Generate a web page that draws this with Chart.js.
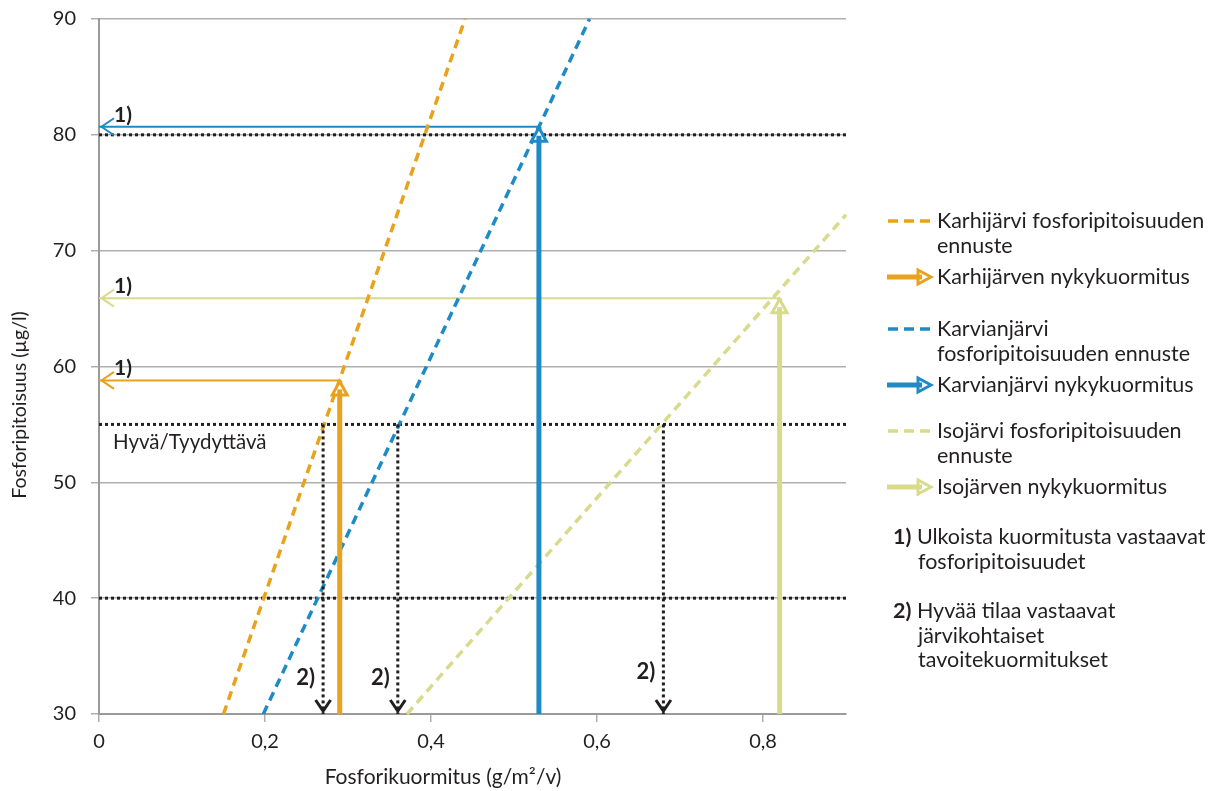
<!DOCTYPE html>
<html>
<head>
<meta charset="utf-8">
<script src="https://cdn.jsdelivr.net/npm/chart.js@4.4.1/dist/chart.umd.min.js"></script>
<style>
  html, body { margin: 0; padding: 0; background: #fff; }
  #wrap { position: relative; width: 1211px; height: 791px; font-family: Lato, "Open Sans", sans-serif; color: #231F20; }
  #c { position: absolute; left: 0; top: 0; }
  .lg { position: absolute; font-size: 21.5px; line-height: 24px; white-space: nowrap; }
  .lg b { font-weight: 700; }
  .icon { position: absolute; }
</style>
</head>
<body>
<div id="wrap">
  <canvas id="c" width="1211" height="791"></canvas>
  <div id="legend"></div>
</div>
<script>
// Lakes and their phosphorus models
const lakes = ['Karhijärvi', 'Karvianjärvi', 'Isojärvi'];

// Forecast lines: concentration (µg/l) as a function of phosphorus load (g/m²/v)
const forecastStartLoad = [0.150, 0.198, 0.371];
const forecastStartConc = [30, 30, 30];
const forecastEndLoad   = [0.441, 0.591, 0.900];
const forecastEndConc   = [90, 90, 73.1];

// Current load of each lake and the concentration it corresponds to
const currentLoad = [0.29, 0.53, 0.82];
const currentConc = [58.8, 80.7, 65.9];

// Target loads that correspond to the good/satisfactory limit
const goodLimit = 55;
const targetLoad = [0.27, 0.36, 0.68];

// Dotted reference levels
const referenceLevels = [80, 55, 40];

// Axis ticks
const xTickValues = [0, 0.2, 0.4, 0.6, 0.8];
const yTickValues = [30, 40, 50, 60, 70, 80, 90];
const xMin = 0, xMax = 0.9, yMin = 30, yMax = 90;

const lakeColors = ['#E8A21C', '#1E8BC7', '#D8DA8C'];
const ink = '#231F20';
const FONT = 'Lato, "Open Sans", sans-serif';

const datasets = [];

referenceLevels.forEach(level => {
  datasets.push({
    data: [{ x: xMin, y: level }, { x: xMax, y: level }],
    borderColor: ink, borderWidth: 3, borderDash: [3, 3],
    order: 6
  });
});

lakes.forEach((lake, i) => {
  datasets.push({
    label: lake + ' fosforipitoisuuden ennuste',
    data: [{ x: forecastStartLoad[i], y: forecastStartConc[i] }, { x: forecastEndLoad[i], y: forecastEndConc[i] }],
    borderColor: lakeColors[i], borderWidth: 3.5, borderDash: [9, 6],
    order: 4
  });
  datasets.push({
    data: [{ x: currentLoad[i], y: currentConc[i] }, { x: 0, y: currentConc[i] }],
    borderColor: lakeColors[i], borderWidth: 2,
    order: 5
  });
  datasets.push({
    data: [{ x: targetLoad[i], y: goodLimit }, { x: targetLoad[i], y: yMin }],
    borderColor: ink, borderWidth: 3, borderDash: [3, 3],
    order: 3
  });
  datasets.push({
    label: lake + ' nykykuormitus',
    data: [{ x: currentLoad[i], y: yMin }, { x: currentLoad[i], y: currentConc[i] }],
    borderColor: lakeColors[i], borderWidth: 5,
    order: 1
  });
});

datasets.forEach(d => {
  d.showLine = true;
  d.pointRadius = 0;
  d.pointHoverRadius = 0;
  d.fill = false;
  d.clip = false;
  d.borderCapStyle = 'butt';
});

// Arrowheads, annotations and axis titles
const overlay = {
  id: 'overlay',
  afterDatasetsDraw(chart) {
    const { ctx, scales: { x, y } } = chart;
    const x0 = x.getPixelForValue(0);
    ctx.save();

    lakes.forEach((lake, i) => {
      const c = lakeColors[i];
      const py = y.getPixelForValue(currentConc[i]);
      const ax = x.getPixelForValue(currentLoad[i]);

      // left-pointing open head at the concentration axis
      ctx.strokeStyle = c; ctx.lineWidth = 2; ctx.lineJoin = 'miter';
      ctx.beginPath();
      ctx.moveTo(x0 + 15, py - 8.5); ctx.lineTo(x0 + 2.5, py); ctx.lineTo(x0 + 15, py + 8.5);
      ctx.stroke();

      ctx.fillStyle = ink;
      ctx.font = 'bold 21px ' + FONT;
      ctx.textAlign = 'left'; ctx.textBaseline = 'alphabetic';
      ctx.fillText('1)', x0 + 15, py - 5);

      // upward outlined head on the current-load bar
      ctx.beginPath();
      ctx.moveTo(ax, py + 1);
      ctx.lineTo(ax - 7.5, py + 14.5);
      ctx.lineTo(ax + 7.5, py + 14.5);
      ctx.closePath();
      ctx.fillStyle = '#fff'; ctx.fill();
      ctx.strokeStyle = c; ctx.lineWidth = 3; ctx.stroke();
      ctx.lineWidth = 5;
      ctx.beginPath(); ctx.moveTo(ax, py + 15); ctx.lineTo(ax, py + 9); ctx.stroke();

      // downward head on the target-load arrow
      const tx = x.getPixelForValue(targetLoad[i]);
      const ty = y.getPixelForValue(yMin) - 3;
      ctx.strokeStyle = ink; ctx.lineWidth = 3;
      ctx.beginPath();
      ctx.moveTo(tx - 7.5, ty - 11); ctx.lineTo(tx, ty); ctx.lineTo(tx + 7.5, ty - 11);
      ctx.stroke();
    });

    // "2)" notes beside the target arrows
    const noteRaise = [0, 0, 6];
    ctx.fillStyle = ink;
    ctx.font = 'bold 22px ' + FONT;
    ctx.textAlign = 'right';
    targetLoad.forEach((t, i) => {
      ctx.fillText('2)', x.getPixelForValue(t) - 8, y.getPixelForValue(yMin) - 29 - noteRaise[i]);
    });

    // class boundary label
    ctx.font = '20.5px ' + FONT;
    ctx.textAlign = 'left';
    ctx.fillText('Hyvä/Tyydyttävä', x0 + 14, y.getPixelForValue(goodLimit) + 25);

    // axis titles
    ctx.textAlign = 'center'; ctx.textBaseline = 'middle';
    ctx.font = '21px ' + FONT;
    ctx.fillText('Fosforikuormitus (g/m²/v)', 443, 777);
    ctx.font = '19.5px ' + FONT;
    ctx.translate(20, 405);
    ctx.rotate(-Math.PI / 2);
    ctx.fillText('Fosforipitoisuus (µg/l)', 0, 0);
    ctx.restore();
  }
};

const tickFont = { family: FONT, size: 20 };
const gridGrey = '#AFAFAF';
const axisGrey = '#9A9A9A';

new Chart(document.getElementById('c'), {
  type: 'scatter',
  data: { datasets },
  options: {
    responsive: false,
    animation: false,
    events: [],
    layout: { padding: { left: 0, right: 365, top: 19, bottom: 0 } },
    plugins: { legend: { display: false }, tooltip: { enabled: false } },
    scales: {
      x: {
        type: 'linear', min: xMin, max: xMax,
        afterBuildTicks: s => { s.ticks = xTickValues.map(v => ({ value: v })); },
        afterFit: s => { s.height = 77; s.paddingLeft = 0; s.paddingRight = 0; },
        ticks: {
          font: tickFont, color: ink, padding: 8, maxRotation: 0,
          callback: v => String(v).replace('.', ',')
        },
        grid: { drawOnChartArea: false, drawTicks: true, tickLength: 8, color: gridGrey, lineWidth: 1.5 },
        border: { display: true, color: axisGrey, width: 2 }
      },
      y: {
        type: 'linear', min: yMin, max: yMax,
        afterBuildTicks: s => { s.ticks = yTickValues.map(v => ({ value: v })); },
        afterFit: s => { s.width = 99; s.paddingTop = 0; s.paddingBottom = 0; },
        ticks: { font: tickFont, color: ink, padding: 15 },
        grid: { drawTicks: true, tickLength: 8, color: gridGrey, lineWidth: 1.5 },
        border: { display: true, color: axisGrey, width: 2 }
      }
    }
  },
  plugins: [overlay]
});

// Legend
const legendEntries = [
  { icon: 'dash',  lake: 0, top: 221, lines: ['Karhijärvi fosforipitoisuuden', 'ennuste'] },
  { icon: 'arrow', lake: 0, top: 277, lines: ['Karhijärven nykykuormitus'] },
  { icon: 'dash',  lake: 1, top: 329, lines: ['Karvianjärvi', 'fosforipitoisuuden ennuste'] },
  { icon: 'arrow', lake: 1, top: 385, lines: ['Karvianjärvi nykykuormitus'] },
  { icon: 'dash',  lake: 2, top: 431, lines: ['Isojärvi fosforipitoisuuden', 'ennuste'] },
  { icon: 'arrow', lake: 2, top: 487, lines: ['Isojärven nykykuormitus'] },
  { icon: 'note',  mark: '1)', top: 537, lines: ['Ulkoista kuormitusta vastaavat', 'fosforipitoisuudet'] },
  { icon: 'note',  mark: '2)', top: 611, lines: ['Hyvää tilaa vastaavat', 'järvikohtaiset', 'tavoitekuormitukset'] }
];

const legendEl = document.getElementById('legend');
const lineStep = 24.6;
legendEntries.forEach(e => {
  if (e.icon === 'dash' || e.icon === 'arrow') {
    const c = lakeColors[e.lake];
    const svg = e.icon === 'dash'
      ? `<svg class="icon" width="50" height="20" style="left:884px;top:${e.top - 10}px">
           <line x1="4" y1="10" x2="46" y2="10" stroke="${c}" stroke-width="3.5" stroke-dasharray="10 6"/></svg>`
      : `<svg class="icon" width="52" height="20" style="left:884px;top:${e.top - 10}px">
           <line x1="3" y1="10" x2="36" y2="10" stroke="${c}" stroke-width="5"/>
           <polygon points="47,10 34,3 34,17" fill="#fff" stroke="${c}" stroke-width="3"/>
           <line x1="33" y1="10" x2="38" y2="10" stroke="${c}" stroke-width="5"/></svg>`;
    legendEl.insertAdjacentHTML('beforeend', svg);
    e.lines.forEach((t, k) => {
      legendEl.insertAdjacentHTML('beforeend',
        `<div class="lg" style="left:937px;top:${e.top - 13 + k * lineStep}px">${t}</div>`);
    });
  } else {
    e.lines.forEach((t, k) => {
      const html = k === 0 ? `<b>${e.mark}</b> ${t}` : t;
      const left = k === 0 ? 893 : 918;
      legendEl.insertAdjacentHTML('beforeend',
        `<div class="lg" style="left:${left}px;top:${e.top - 13 + k * lineStep}px">${html}</div>`);
    });
  }
});
</script>
</body>
</html>
